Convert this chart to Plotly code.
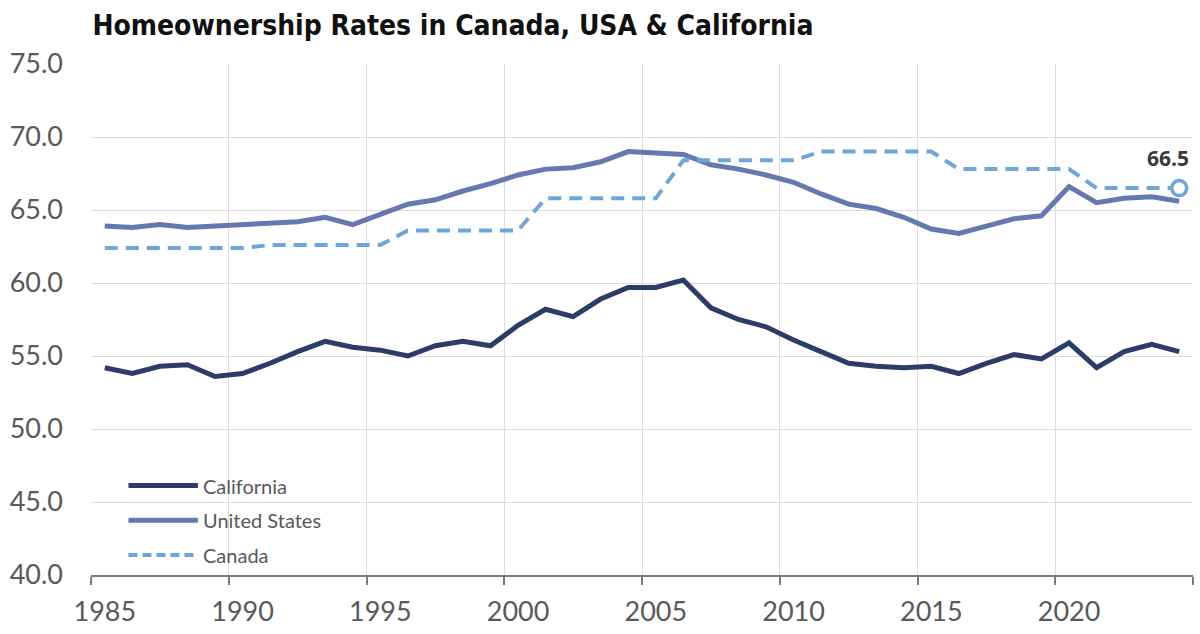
import plotly.graph_objects as go

# homeownership rate (%) by year
years = list(range(1985, 2025))

california = [54.2, 53.8, 54.3, 54.4, 53.6, 53.8, 54.5, 55.3, 56.0, 55.6,
              55.4, 55.0, 55.7, 56.0, 55.7, 57.1, 58.2, 57.7, 58.9, 59.7,
              59.7, 60.2, 58.3, 57.5, 57.0, 56.1, 55.3, 54.5, 54.3, 54.2,
              54.3, 53.8, 54.5, 55.1, 54.8, 55.9, 54.2, 55.3, 55.8, 55.3]

united_states = [63.9, 63.8, 64.0, 63.8, 63.9, 64.0, 64.1, 64.2, 64.5, 64.0,
                 64.7, 65.4, 65.7, 66.3, 66.8, 67.4, 67.8, 67.9, 68.3, 69.0,
                 68.9, 68.8, 68.1, 67.8, 67.4, 66.9, 66.1, 65.4, 65.1, 64.5,
                 63.7, 63.4, 63.9, 64.4, 64.6, 66.6, 65.5, 65.8, 65.9, 65.6]

canada = [62.4, 62.4, 62.4, 62.4, 62.4, 62.4, 62.6, 62.6, 62.6, 62.6,
          62.6, 63.6, 63.6, 63.6, 63.6, 63.6, 65.8, 65.8, 65.8, 65.8,
          65.8, 68.4, 68.4, 68.4, 68.4, 68.4, 69.0, 69.0, 69.0, 69.0,
          69.0, 67.8, 67.8, 67.8, 67.8, 67.8, 66.5, 66.5, 66.5, 66.5]

tick_years = [1985, 1990, 1995, 2000, 2005, 2010, 2015, 2020]
y_ticks = [40, 45, 50, 55, 60, 65, 70, 75]

CA_COL = "#2c3c69"
US_COL = "#6578b0"
CAN_COL = "#6fa6d8"
GRID = "#dcdcdc"
TXT = "#595959"

fig = go.Figure()

fig.add_trace(go.Scatter(x=years, y=california, mode="lines", name="California",
                         line=dict(color=CA_COL, width=5)))
fig.add_trace(go.Scatter(x=years, y=united_states, mode="lines", name="United States",
                         line=dict(color=US_COL, width=5)))
fig.add_trace(go.Scatter(x=years, y=canada, mode="lines", name="Canada",
                         line=dict(color=CAN_COL, width=4, dash="13px,8px")))
# last canada point highlighted
fig.add_trace(go.Scatter(x=years[-1:], y=canada[-1:], mode="markers",
                         marker=dict(size=15, color="white", line=dict(color=CAN_COL, width=3.5)),
                         showlegend=False))

fig.add_annotation(x=years[-1], y=canada[-1], text="<b>%.1f</b>" % canada[-1],
                   showarrow=False, yshift=30, xshift=12, xanchor="right",
                   font=dict(family="Open Sans", size=21, color="#3a3a3a"))

# excel category axis: labels under the year, grid + tick marks between years
fig.update_xaxes(range=[years[0] - 0.5, years[-1] + 0.5],
                 tickvals=tick_years, ticktext=[str(t) for t in tick_years],
                 showgrid=False, ticks="", ticklabelstandoff=12,
                 minor=dict(tickvals=[t - 0.5 for t in tick_years] + [years[-1] + 0.5],
                            showgrid=True, gridcolor=GRID, gridwidth=1,
                            ticks="outside", ticklen=8, tickcolor="#7a7a7a", tickwidth=1.5),
                 showline=True, linecolor="#7a7a7a", linewidth=1.5,
                 tickfont=dict(family="Lato", size=27, color=TXT),
                 zeroline=False)
fig.update_yaxes(range=[40, 75], tickvals=y_ticks,
                 ticktext=["%.1f" % v for v in y_ticks],
                 showgrid=True, gridcolor=GRID, gridwidth=1,
                 tickfont=dict(family="Lato", size=27, color=TXT),
                 ticklabelstandoff=27, zeroline=False)

# hand-made legend box like the original
fig.add_shape(type="rect", xref="paper", yref="paper", x0=0.004, x1=0.245, y0=0.006, y1=0.214,
              fillcolor="white", line=dict(width=0), layer="below")
leg = [("California", CA_COL, "solid", 5, 0.175),
       ("United States", US_COL, "solid", 5, 0.107),
       ("Canada", CAN_COL, "9px,5px", 4, 0.039)]
for name, col, dash, w, yy in leg:
    fig.add_shape(type="line", xref="paper", yref="paper", x0=0.034, x1=0.097, y0=yy, y1=yy,
                  line=dict(color=col, width=w, dash=dash))
    fig.add_annotation(xref="paper", yref="paper", x=0.1, y=yy, text=name, showarrow=False,
                       xanchor="left", yanchor="middle",
                       font=dict(family="Lato", size=20, color=TXT))

fig.update_layout(
    width=1200, height=634,
    margin=dict(l=91, r=7, t=64, b=56),
    paper_bgcolor="white", plot_bgcolor="white",
    showlegend=False,
    title=dict(text="<b>Homeownership Rates in Canada, USA &amp; California</b>",
               x=0.077, xanchor="left", y=0.961, yanchor="middle",
               font=dict(family="DejaVu Sans Condensed, Roboto Condensed, DejaVu Sans", size=28,
                         color="#111111")),
)

# page body has a default 8px margin, drop it so the figure sits at 0,0
fig.write_html("out.html", config={"displayModeBar": False},
               post_script="document.body.style.margin='0';")
